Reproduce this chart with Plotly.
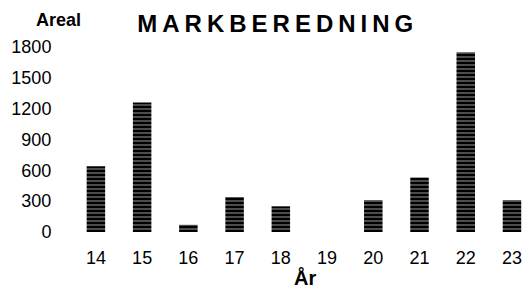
import plotly.graph_objects as go

years = ["14", "15", "16", "17", "18", "19", "20", "21", "22", "23"]
areal = [640, 1260, 70, 340, 250, 0, 310, 530, 1750, 310]
y_ticks = [0, 300, 600, 900, 1200, 1500, 1800]

FONT = "Liberation Sans, Arial, sans-serif"

fig = go.Figure(
    go.Bar(
        x=years,
        y=areal,
        width=0.4,
        marker=dict(
            color="black",
            line=dict(width=0),
            pattern=dict(shape="-", fgcolor="white", bgcolor="black",
                         size=4, solidity=0.3, fillmode="overlay"),
        ),
    )
)

fig.update_layout(
    width=524,
    height=293,
    paper_bgcolor="white",
    plot_bgcolor="white",
    margin=dict(l=58, r=0, t=47, b=61, autoexpand=False),
    showlegend=False,
    hovermode=False,
    title=dict(
        text="<b>MARKBEREDNING</b>",
        x=0.53, xanchor="center", y=0.921, yanchor="middle",
        font=dict(family=FONT, size=24, color="black"),
    ),
    font=dict(family=FONT, size=18, color="black"),
    annotations=[
        dict(text="<b>Areal</b>", xref="paper", yref="paper",
             x=0.002, y=1.146, xanchor="center", yanchor="middle",
             showarrow=False, font=dict(family=FONT, size=18, color="black")),
        dict(text="<b>År</b>", xref="paper", yref="paper",
             x=0.529, y=-0.245, xanchor="center", yanchor="middle",
             showarrow=False, font=dict(family=FONT, size=20, color="black")),
    ],
)

fig.update_xaxes(
    type="category",
    range=[-0.82, 9.26],
    automargin=False,
    showgrid=False, zeroline=False, showline=False,
    ticks="outside", ticklen=9, tickcolor="white",
    tickfont=dict(family=FONT, size=18, color="black"),
)
fig.update_yaxes(
    range=[0, 1800],
    tickvals=y_ticks,
    automargin=False,
    showgrid=False, zeroline=False, showline=False,
    ticks="outside", ticklen=2, tickcolor="white",
    tickfont=dict(family=FONT, size=18, color="black"),
)

post = """
document.body.style.margin = '0';
document.body.style.overflow = 'hidden';
var gd = document.getElementById('{plot_id}');
function ls(){ var t = gd.querySelector('.gtitle'); if (t) { t.style.letterSpacing = '5px'; } }
ls();
gd.on('plotly_afterplot', ls);
"""

fig.write_html("out.html", post_script=post, config={"displayModeBar": False, "staticPlot": True})
